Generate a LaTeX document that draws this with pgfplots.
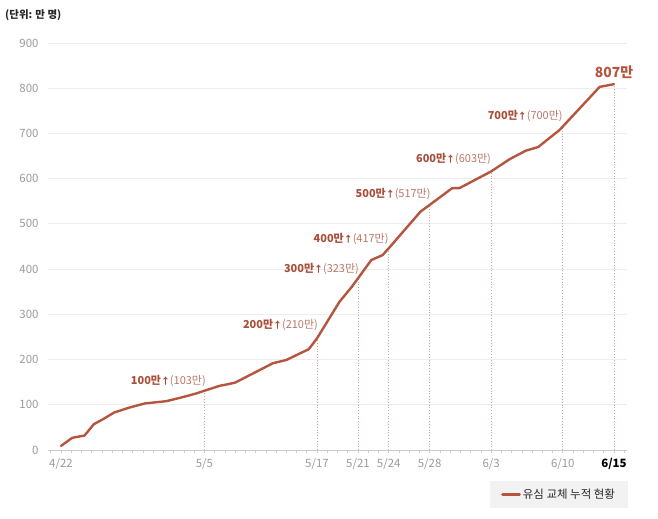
\documentclass[border=0pt]{standalone}
\usepackage{fontspec}
\setmainfont{Noto Sans CJK KR}
\usepackage{pgfplots}
\pgfplotsset{compat=1.18}

\definecolor{linered}{HTML}{B5553F}
\definecolor{annbold}{HTML}{A84F3B}
\definecolor{annlight}{HTML}{B8776A}
\definecolor{ticklab}{HTML}{9B9B9B}
\definecolor{gridc}{HTML}{EDEDED}
\definecolor{dotc}{HTML}{D2A79B}
\definecolor{legbg}{HTML}{F2F2F2}

% milestone label: bold "N만 ↑" then the lighter "(M만)"
\newcommand{\ann}[2]{{\bfseries\color{annbold}#1만{\fontsize{9}{9}\selectfont↑}}{\color{annlight}(#2만)}}

\begin{document}
\begin{tikzpicture}
\fill[white] (-48bp,-69bp) rectangle (610bp,450bp);
\useasboundingbox (-48bp,-69bp) rectangle (610bp,450bp);
\begin{axis}[
    scale only axis, width=579bp, height=407bp,
    xmin=-1.27, xmax=55.27, ymin=0, ymax=900,
    axis x line*=bottom, axis y line*=left,
    y axis line style={draw=none},
    x axis line style={draw=black!20, line width=0.8bp},
    ytick={0,100,...,900},
    ymajorgrids, grid style={draw=gridc, line width=0.8bp},
    xtick={0,14,25,29,32,36,42,49,54},
    xticklabels={4/22,5/5,5/17,5/21,5/24,5/28,6/3,6/10,{\textcolor{black}{\bfseries 6/15}}},
    minor xtick={-1,0,...,55},
    tick align=outside,
    major tick length=3bp, minor tick length=3bp,
    tick style={draw=black!20, line width=0.6bp},
    ytick style={draw=none},
    ticklabel style={font=\fontsize{11.5}{12}\selectfont, text=ticklab},
    yticklabel style={xshift=-3bp},
    xticklabel style={yshift=-2bp},
    /pgf/number format/assume math mode=true,
    clip=false,
    legend style={at={(rel axis cs:1.002,-0.1425)}, anchor=south east,
        draw=none, fill=legbg, inner xsep=11bp, inner ysep=6bp,
        font=\fontsize{11.5}{13}\selectfont, text=black!85},
    legend image code/.code={\draw[#1, line width=2.8bp] (0bp,0bp) -- (17bp,0bp);},
]
% dotted drop lines at the labelled dates
\addplot[ycomb, dotc, dotted, line width=0.8bp, forget plot] coordinates {
    (14,131) (25,247) (29,380) (32,446) (36,542) (42,616) (49,715) (54,809)};

\addplot[linered, line width=2.4bp, line join=round, line cap=round] coordinates {
    (0,9) (1.1,27) (2.3,32) (3.2,57) (4.1,68) (5.2,83) (6.7,94) (8.2,103)
    (10.3,108) (11.9,117) (13.2,125) (14,131) (15.5,142) (16.2,145) (17,149)
    (18.9,171) (20.7,192) (22,199) (24.2,223) (25,247) (27.2,328) (28.4,361)
    (30.3,420) (31.4,431) (32,446) (35.1,527) (36,542) (38.2,579) (38.9,579)
    (42,616) (43.8,643) (45.4,662) (46.6,670) (48.7,708) (52.6,803) (54,809)};
\addlegendentry{유심 교체 누적 현황}

\begin{scope}[every node/.style={anchor=east, inner sep=0, font=\fontsize{11}{12}\selectfont}]
\node at (axis cs:14.15,153) {\ann{100}{103}};
\node at (axis cs:25.1,276) {\ann{200}{210}};
\node at (axis cs:29.1,400) {\ann{300}{323}};
\node at (axis cs:32.0,467) {\ann{400}{417}};
\node at (axis cs:36.1,566) {\ann{500}{517}};
\node at (axis cs:42.0,643) {\ann{600}{603}};
\node at (axis cs:49.0,739) {\ann{700}{700}};
\end{scope}
\node[inner sep=0, font=\fontsize{14}{16}\selectfont\bfseries, text=linered] at (axis cs:54,836) {807만};
\end{axis}
\node[anchor=west, inner sep=0, font=\bfseries\fontsize{10.5}{12}\selectfont, text=black!85] at (-43bp,435bp) {(단위: 만 명)};
\end{tikzpicture}
\end{document}
